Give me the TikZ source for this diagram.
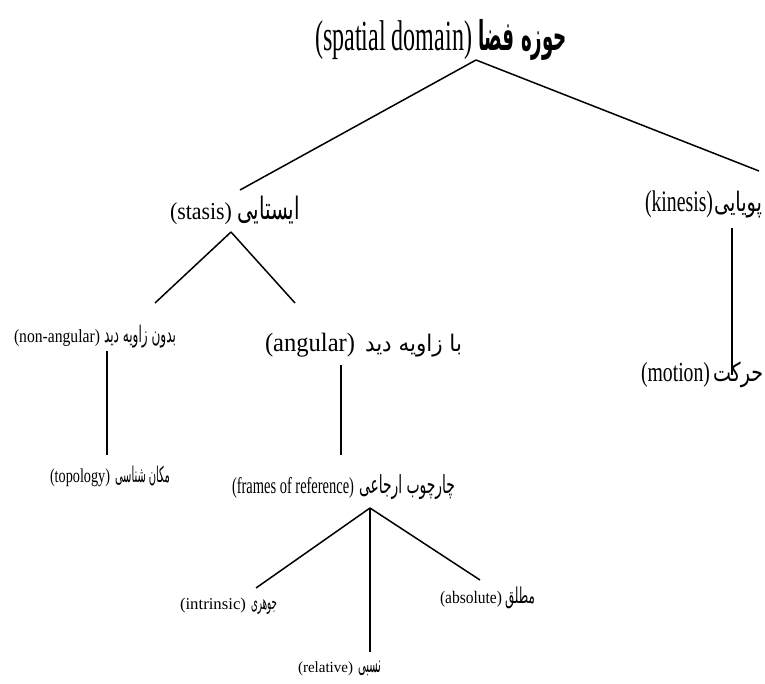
\documentclass[tikz,border=0pt]{standalone}
\usepackage{fontspec}
\usepackage{graphicx}
\usetikzlibrary{calc}
\TeXXeTstate=1
\newfontfamily\latinf{Liberation Serif}
\newfontfamily\arabicfont[Script=Arabic]{DejaVu Sans}
\newcommand\en[3]{\resizebox*{#1pt}{#2pt}{\latinf #3}}
\newcommand\fa[3]{\resizebox*{#1pt}{#2pt}{\arabicfont #3}}
\newcommand\fab[3]{\resizebox*{#1pt}{#2pt}{\arabicfont\bfseries #3}}
\tikzset{
  lbl/.style={inner sep=0pt, outer sep=0pt, anchor=base west},
  conn/.style={line width=1.5pt, black}
}
\begin{document}
\begin{tikzpicture}[x=1pt,y=-1pt]
\useasboundingbox (0,0) rectangle (765,684);
% labels
\node[lbl] (top) at (315,51) {\en{157}{39}{(spatial domain)}\hspace{6pt}\fab{89}{41}{\beginR حوزه فضا\endR}};
\node[lbl] (stasis) at (170,220) {\en{62}{22}{(stasis)}\hspace{5pt}\fa{63}{28}{\beginR ایستایی\endR}};
\node[lbl] (kinesis) at (645,212) {\en{68}{27}{(kinesis)}\hspace{1pt}\fa{48}{27}{\beginR پویایی\endR}};
\node[lbl] (nonang) at (14,342.6) {\en{86}{17}{(non-angular)}\hspace{4pt}\fa{72}{23}{\beginR بدون زاویه دید\endR}};
\node[lbl] (ang) at (265,352) {\en{90}{24}{(angular)}\hspace{10pt}\fa{97}{23}{\beginR با زاویه دید\endR}};
\node[lbl] (motion) at (641,381) {\en{69}{25}{(motion)}\hspace{3pt}\fa{50}{26}{\beginR حرکت\endR}};
\node[lbl] (topo) at (50,482) {\en{60}{18}{(topology)}\hspace{5pt}\fa{55}{20}{\beginR مکان شناسی\endR}};
\node[lbl] (frames) at (232,493) {\en{122}{21}{(frames of reference)}\hspace{5pt}\fa{96}{25}{\beginR چارچوب ارجاعی\endR}};
\node[lbl] (intr) at (180,609) {\en{66}{15}{(intrinsic)}\hspace{5pt}\fa{26}{15}{\beginR جوهری\endR}};
\node[lbl] (abs) at (440,603) {\en{62}{16}{(absolute)}\hspace{3pt}\fa{30}{22}{\beginR مطلق\endR}};
\node[lbl] (rel) at (298,672) {\en{55}{14}{(relative)}\hspace{5pt}\fa{23}{15}{\beginR نسبی\endR}};
% connectors
\draw[conn] ($(top.base west)+(161,9)$) -- ($(stasis.base west)+(70,-30)$);
\draw[conn] ($(top.base west)+(161,9)$) -- ($(kinesis.base west)+(114,-41)$);
\draw[conn] ($(stasis.base west)+(61,12)$) -- ($(nonang.base west)+(141,-39.6)$);
\draw[conn] ($(stasis.base west)+(61,12)$) -- ($(ang.base west)+(30,-49)$);
\draw[conn] ($(kinesis.base west)+(87,16)$) -- ($(motion.base west)+(91,-6)$);
\draw[conn] ($(nonang.base west)+(93,8)$) -- ($(topo.base west)+(57,-27)$);
\draw[conn] ($(ang.base west)+(76,13)$) -- ($(frames.base west)+(109,-38)$);
\draw[conn] ($(frames.base west)+(138,15)$) -- ($(intr.base west)+(76,-21)$);
\draw[conn] ($(frames.base west)+(138,15)$) -- ($(rel.base west)+(72,-20)$);
\draw[conn] ($(frames.base west)+(138,15)$) -- ($(abs.base west)+(40,-23)$);
\end{tikzpicture}
\end{document}
